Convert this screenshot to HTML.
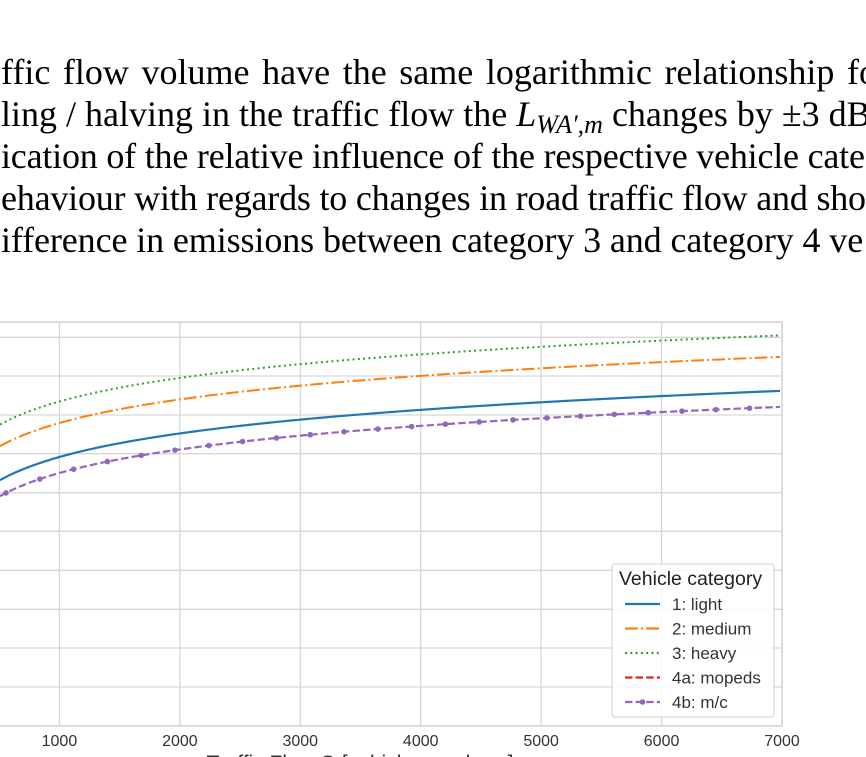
<!DOCTYPE html>
<html><head><meta charset="utf-8"><style>
html,body{margin:0;padding:0;background:#fff;width:866px;height:757px;overflow:hidden;position:relative}
.t{position:absolute;left:0;font-family:"Liberation Serif",serif;font-size:36px;white-space:nowrap;color:#000;line-height:1}
.j{text-align:justify;text-align-last:justify;white-space:normal}
svg{position:absolute;left:0;top:0}
</style></head><body>
<div class="t j" style="top:54px;left:1px;width:888px">ffic flow volume have the same logarithmic relationship for</div>
<div class="t" style="top:96px;left:1px;letter-spacing:0px">ling / halving in the traffic flow the <i>L</i><sub style="font-size:26px;font-style:italic;vertical-align:-7px">WA′,m</sub> changes by ±3 dB</div>
<div class="t" style="top:138px;left:1px;letter-spacing:-0.2px">ication of the relative influence of the respective vehicle cate</div>
<div class="t" style="top:180px;left:1px;letter-spacing:-0.2px">ehaviour with regards to changes in road traffic flow and sho</div>
<div class="t" style="top:222px;left:1px;letter-spacing:-0.1px">ifference in emissions between category 3 and category 4 ve</div>
<svg width="866" height="757" id="s" font-family="Liberation Sans, sans-serif"></svg>
<script>
var s=document.getElementById('s'),h='';
var L=-61,R=782,T=322,B=726;
h+='<rect x="'+L+'" y="'+T+'" width="'+(R-L)+'" height="'+(B-T)+'" fill="#fff" stroke="#d0d0d0" stroke-width="1.5"/>';
var gy=[337.3,376,415,453.7,492.7,531.3,570.3,609.3,648,687];
gy.forEach(function(y){h+='<line x1="'+L+'" x2="'+R+'" y1="'+y+'" y2="'+y+'" stroke="#d6d6d6" stroke-width="1.3"/>';});
for(var k=1;k<=6;k++){var x=L+k*120.43;h+='<line x1="'+x+'" x2="'+x+'" y1="'+T+'" y2="'+B+'" stroke="#d6d6d6" stroke-width="1.3"/>';}
for(var k=1;k<=7;k++){var x=L+k*120.43;h+='<text x="'+x+'" y="746" font-size="16" fill="#333" text-anchor="middle">'+(k*1000)+'</text>';}
h+='<text x="360" y="770" font-size="21" fill="#333" text-anchor="middle">Traffic Flow Q [vehicles per hour]</text>';
function path(b){var d='';for(var x=0;x<=R;x+=3){var q=(x-L)/120.43*1000;var y=b-34*Math.log(q/1000);d+=(x?'L':'M')+x+' '+y.toFixed(2);}return d;}
h+='<path d="'+path(401.5)+'" fill="none" stroke="#2ca02c" stroke-width="2" stroke-dasharray="2 3.3"/>';
h+='<path d="'+path(423)+'" fill="none" stroke="#ff7f0e" stroke-width="2" stroke-dasharray="12.8 3.2 2 3.2"/>';
h+='<path d="'+path(457)+'" fill="none" stroke="#1f77b4" stroke-width="2.2"/>';
h+='<path d="'+path(473)+'" fill="none" stroke="#9467bd" stroke-width="2.2" stroke-dasharray="7.4 3.2"/>';
for(var x=6;x<=R;x+=33.8){var q=(x-L)/120.43*1000;var y=473-34*Math.log(q/1000);h+='<circle cx="'+x+'" cy="'+y+'" r="2.8" fill="#9467bd"/>';}
h+='<rect x="612" y="564" width="162" height="153" rx="3" fill="#fff" fill-opacity="0.85" stroke="#d0d0d0"/>';
h+='<text x="619" y="585" font-size="19.5" fill="#222">Vehicle category</text>';
var ent=[['1: light','#1f77b4','none'],['2: medium','#ff7f0e','12.8 3.2 2 3.2'],['3: heavy','#2ca02c','2 3.3'],['4a: mopeds','#d62728','7.4 3.2'],['4b: m/c','#9467bd','7.4 3.2']];
ent.forEach(function(e,i){var y=604+i*24.5;h+='<line x1="625" x2="660" y1="'+y+'" y2="'+y+'" stroke="'+e[1]+'" stroke-width="2.2" stroke-dasharray="'+e[2]+'"/>';if(i==4)h+='<circle cx="642.5" cy="'+y+'" r="2.8" fill="#9467bd"/>';h+='<text x="672" y="'+(y+6)+'" font-size="17" fill="#333">'+e[0]+'</text>';});
s.innerHTML=h;
</script>
</body></html>
